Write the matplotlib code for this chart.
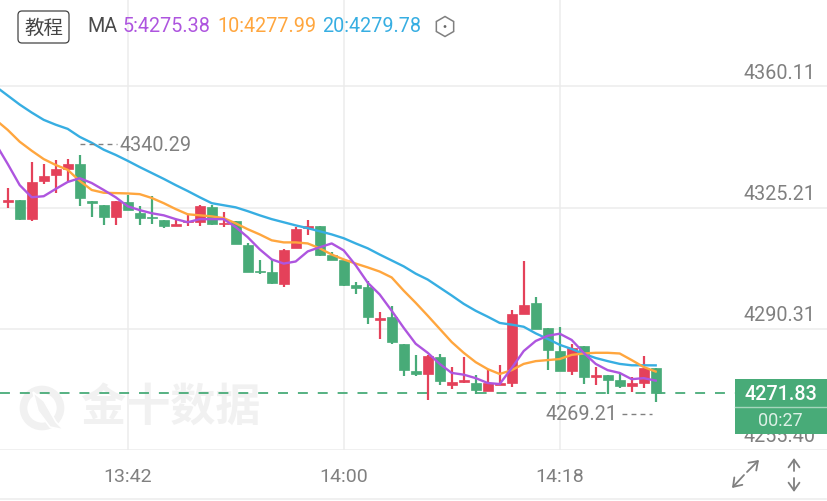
import matplotlib
matplotlib.use("Agg")
import matplotlib.pyplot as plt
from matplotlib.patches import FancyBboxPatch, Rectangle, Circle, Polygon, RegularPolygon
from matplotlib.transforms import Affine2D, ScaledTranslation

# ---------- data ----------
opens = [4326.7, 4327.5, 4321.9, 4332.8, 4334.5, 4336.4, 4337.8, 4327.2, 4325.9, 4322.5, 4326.9,
         4323.8, 4322.4, 4321.7, 4320.0, 4321.1, 4321.0, 4325.4, 4320.5, 4321.4, 4314.4, 4307.0,
         4306.6, 4303.3, 4313.5, 4319.4, 4319.8, 4311.5, 4310.0, 4303.0, 4302.3, 4292.9, 4293.8,
         4286.0, 4278.1, 4277.4, 4282.3, 4274.2, 4275.0, 4274.6, 4272.4, 4274.2, 4274.6, 4294.6,
         4297.6, 4290.4, 4283.9, 4278.1, 4285.3, 4276.5, 4277.0, 4275.5, 4273.8, 4274.8, 4279.1]
closes = [4327.5, 4321.9, 4332.5, 4334.3, 4336.4, 4337.7, 4328.0, 4326.6, 4322.5, 4327.0, 4324.5,
          4322.3, 4322.1, 4319.9, 4320.6, 4321.4, 4325.7, 4320.5, 4320.9, 4314.6, 4306.8, 4306.6,
          4303.5, 4312.9, 4319.2, 4319.8, 4311.7, 4310.1, 4303.0, 4302.2, 4293.7, 4293.5, 4286.5,
          4278.4, 4277.2, 4282.5, 4275.2, 4275.0, 4275.5, 4272.6, 4274.6, 4274.8, 4294.5, 4297.3,
          4290.2, 4284.2, 4278.1, 4284.9, 4276.4, 4277.0, 4275.5, 4273.9, 4274.7, 4279.1, 4271.83]
highs = [4330.8, 4327.5, 4338.3, 4337.9, 4338.8, 4339.1, 4340.29, 4327.2, 4325.9, 4327.0, 4328.9,
         4325.7, 4328.5, 4321.7, 4321.9, 4323.0, 4326.1, 4326.1, 4324.0, 4321.4, 4315.1, 4310.1,
         4310.0, 4313.2, 4319.5, 4321.7, 4319.8, 4312.4, 4310.0, 4303.9, 4304.0, 4295.1, 4297.0,
         4286.0, 4282.7, 4282.9, 4283.1, 4279.4, 4282.2, 4276.9, 4278.8, 4279.8, 4295.7, 4309.8,
         4299.5, 4290.6, 4290.9, 4285.9, 4285.3, 4279.3, 4277.0, 4277.3, 4276.5, 4282.5, 4279.1]
lows = [4325.1, 4321.6, 4321.5, 4332.0, 4329.3, 4332.9, 4325.7, 4322.4, 4320.1, 4320.1, 4324.5,
        4320.2, 4320.6, 4319.4, 4319.9, 4319.8, 4319.9, 4320.2, 4319.5, 4314.6, 4306.6, 4306.2,
        4303.3, 4302.3, 4313.5, 4317.3, 4311.2, 4310.1, 4302.5, 4300.2, 4291.8, 4287.3, 4286.0,
        4276.6, 4276.7, 4269.9, 4274.2, 4272.9, 4274.8, 4271.5, 4272.4, 4274.2, 4273.6, 4294.6,
        4290.2, 4278.4, 4278.1, 4277.1, 4274.4, 4274.1, 4271.4, 4273.3, 4272.0, 4273.3, 4269.21]

# the averages start one candle before the first visible candle
ma5 = [4343.6, 4337.8, 4331.7, 4328.2, 4328.5, 4330.6, 4332.6, 4333.7, 4332.3, 4330.3, 4328.2,
       4325.6, 4324.5, 4323.6, 4323.0, 4321.9, 4321.0, 4321.9, 4321.9, 4321.9, 4319.6, 4316.7,
       4313.2, 4310.3, 4309.1, 4309.7, 4312.6, 4313.8, 4314.9, 4312.9, 4308.6, 4303.6, 4300.2,
       4295.5, 4290.6, 4286.0, 4283.4, 4280.2, 4277.6, 4277.1, 4276.1, 4274.7, 4274.4, 4279.0,
       4283.9, 4286.8, 4288.3, 4288.9, 4287.1, 4283.4, 4280.2, 4278.4, 4277.6, 4275.8, 4276.1, 4275.38]
ma10 = [4350.5, 4347.6, 4344.2, 4341.6, 4339.2, 4337.5, 4336.1, 4332.9, 4330.3, 4329.5, 4329.4,
        4329.3, 4329.1, 4328.0, 4326.5, 4324.8, 4323.3, 4323.0, 4322.7, 4322.2, 4320.7, 4319.0,
        4317.5, 4315.8, 4315.2, 4315.2, 4314.9, 4313.5, 4311.7, 4310.3, 4309.1, 4308.0, 4306.8,
        4305.1, 4301.3, 4297.8, 4294.1, 4290.3, 4286.5, 4283.4, 4280.7, 4278.7, 4277.3, 4278.4,
        4280.2, 4281.0, 4281.3, 4281.6, 4282.8, 4283.2, 4283.4, 4283.4, 4283.2, 4281.3, 4279.3, 4277.99]
ma20 = [4360.1, 4357.5, 4354.9, 4352.6, 4350.5, 4349.1, 4347.9, 4345.6, 4343.9, 4341.9, 4340.4,
        4338.7, 4336.9, 4335.2, 4333.5, 4331.7, 4330.0, 4328.2, 4326.5, 4325.9, 4325.3, 4324.2,
        4323.0, 4321.9, 4321.0, 4320.1, 4319.3, 4318.4, 4317.5, 4316.4, 4314.9, 4313.5, 4311.7,
        4310.0, 4308.3, 4306.2, 4304.5, 4302.2, 4299.9, 4297.5, 4295.5, 4293.8, 4292.0, 4291.5,
        4290.9, 4289.0, 4287.4, 4285.7, 4284.5, 4283.1, 4281.9, 4281.0, 4280.2, 4279.8, 4279.8, 4279.78]

price_ticks = [4360.11, 4325.21, 4290.31, 4255.40]
time_positions = [10, 28, 46]
time_labels = ["13:42", "14:00", "14:18"]
last_price = 4271.83
high_label = 4340.29
low_label = 4269.21
countdown = "00:27"

# ---------- style ----------
RED = "#E4415A"
GREEN = "#48AB78"
PURPLE = "#AE55DF"
ORANGE = "#FFA63E"
BLUE = "#37AEE2"
GRID = "#ECECEC"
GREY = "#808080"
NUM = "Roboto"
CJK = "Noto Sans CJK SC"

W, H = 828, 502
fig = plt.figure(figsize=(W / 100, H / 100), dpi=100, facecolor="white")
ax = fig.add_axes([0, (H - 451) / H, 1, 451 / H])
ax.set_xlim(-0.642, 68.36)
ax.set_ylim(4255.40, 4385.31)
ax.set_axisbelow(True)
for s in ax.spines.values():
    s.set_visible(False)

# pixel coordinates of the picture, origin top-left
PX = Affine2D().scale(1, -1).translate(0, H)

# ticks and grid
ax.set_xticks(time_positions, time_labels, fontfamily=NUM, fontsize=14, color=GREY)
ax.yaxis.tick_right()
ax.set_yticks(price_ticks, [f"{p:.2f}" for p in price_ticks], fontfamily=NUM, fontsize=14.2, color=GREY)
ax.tick_params(axis="x", length=0, pad=12)
ax.tick_params(axis="y", length=0, pad=-9)
ax.grid(True, color=GRID, lw=1.1)
shift = ScaledTranslation(0, 14 / 100, fig.dpi_scale_trans)
for lab in ax.get_yticklabels():
    lab.set_horizontalalignment("right")
    lab.set_verticalalignment("center")
    lab.set_transform(lab.get_transform() + shift)

# watermark
WM = "#F1F1F1"
ax.add_patch(Circle((42, 409), 18.5, transform=PX, fc="none", ec=WM, lw=5.5, zorder=1, clip_on=False))
ax.add_patch(Polygon([(33, 393), (44, 402), (56, 423), (64, 431), (50, 428), (38, 412)],
                     transform=PX, fc=WM, ec="white", lw=1.2, zorder=1, clip_on=False))
ax.text(170, 408, "金十数据", transform=PX, ha="center", va="center", family=CJK,
        fontweight="bold", fontsize=32.5, color=WM, zorder=1)

# candles
xs = list(range(len(opens)))
for x, o, c, h, l in zip(xs, opens, closes, highs, lows):
    col = RED if c >= o else GREEN
    ax.vlines(x, l, h, color=col, lw=1.6, zorder=3)
    ax.bar(x, abs(c - o), bottom=min(o, c), width=0.82, color=col, edgecolor=col, lw=0.5, zorder=3)

# moving averages
ma_x = list(range(-1, len(opens)))
ax.plot(ma_x, ma20, color=BLUE, lw=1.7, zorder=4, solid_joinstyle="round")
ax.plot(ma_x, ma10, color=ORANGE, lw=1.7, zorder=4, solid_joinstyle="round")
ax.plot(ma_x, ma5, color=PURPLE, lw=1.7, zorder=4, solid_joinstyle="round")

# last price line
ax.plot([-0.642, 60.6], [last_price] * 2, color=GREEN, lw=1.3, ls=(0, (5.5, 5.5)), zorder=2)

# high / low labels
up = ax.transData + ScaledTranslation(0, 11 / 100, fig.dpi_scale_trans)
down = ax.transData + ScaledTranslation(0, -11.5 / 100, fig.dpi_scale_trans)
ax.plot([6, 9.1], [high_label] * 2, color=GREY, lw=1, ls=(0, (3.5, 3)), transform=up, zorder=4)
ax.text(9.35, high_label, f"{high_label:.2f}", transform=up, ha="left", va="center",
        family=NUM, fontsize=14.2, color=GREY, zorder=4)
ax.plot([51.2, 53.7], [low_label] * 2, color=GREY, lw=1, ls=(0, (3.5, 3)), transform=down, zorder=4)
ax.text(50.8, low_label, f"{low_label:.2f}", transform=down, ha="right", va="center",
        family=NUM, fontsize=14.2, color=GREY, zorder=4)

# price box
ax.add_patch(Rectangle((735, 380), 92, 55, transform=PX, fc=GREEN, ec="none", zorder=6, clip_on=False))
ax.plot([735, 827], [408, 408], transform=PX, color="#A5D6BC", lw=1, zorder=7, clip_on=False)
ax.text(780.5, 394.5, f"{last_price:.2f}", transform=PX, ha="center", va="center", family=NUM,
        fontsize=14.2, fontweight="medium", color="white", zorder=7)
ax.text(780.5, 421.5, countdown, transform=PX, ha="center", va="center", family=NUM,
        fontsize=13, color="#DDF0E6", zorder=7)

# header
ax.add_patch(FancyBboxPatch((18, 12), 51, 32, boxstyle="round,pad=0,rounding_size=4", transform=PX,
                            fc="white", ec="#444444", lw=0.9, zorder=7, clip_on=False))
ax.text(43.5, 28, "教程", transform=PX, ha="center", va="center", family=CJK, fontsize=14,
        color="#444444", zorder=8)
ax.text(87, 27, "MA", transform=PX, ha="left", va="center", family=NUM, fontsize=14.2, color="#4A4A4A", zorder=8)
ax.text(123, 27, "5:4275.38", transform=PX, ha="left", va="center", family=NUM, fontsize=14.2, color=PURPLE, zorder=8)
ax.text(217, 27, "10:4277.99", transform=PX, ha="left", va="center", family=NUM, fontsize=14.2, color=ORANGE, zorder=8)
ax.text(322, 27, "20:4279.78", transform=PX, ha="left", va="center", family=NUM, fontsize=14.2, color=BLUE, zorder=8)
ax.add_patch(RegularPolygon((445, 27.5), 6, radius=10, transform=PX, fc="white", ec=GREY, lw=1.1, zorder=8, clip_on=False))
ax.add_patch(Circle((445, 27.5), 1.4, transform=PX, fc="#666666", ec="none", zorder=9, clip_on=False))

# bottom frame
ax.plot([0, 826], [499.5, 499.5], transform=PX, color=GRID, lw=1.1, clip_on=False, zorder=1)

# corner arrows
for a, b in [((747, 473), (759, 461)), ((744, 476), (732, 489)), ((794, 472), (794, 459)), ((794, 479), (794, 493))]:
    ax.annotate("", xy=b, xytext=a, xycoords=PX, textcoords=PX,
                arrowprops=dict(arrowstyle="->,head_length=0.4,head_width=0.28", color=GREY, lw=1.3,
                                shrinkA=0, shrinkB=0, mutation_scale=14), zorder=8, annotation_clip=False)

fig.savefig("out.png", dpi=100)
